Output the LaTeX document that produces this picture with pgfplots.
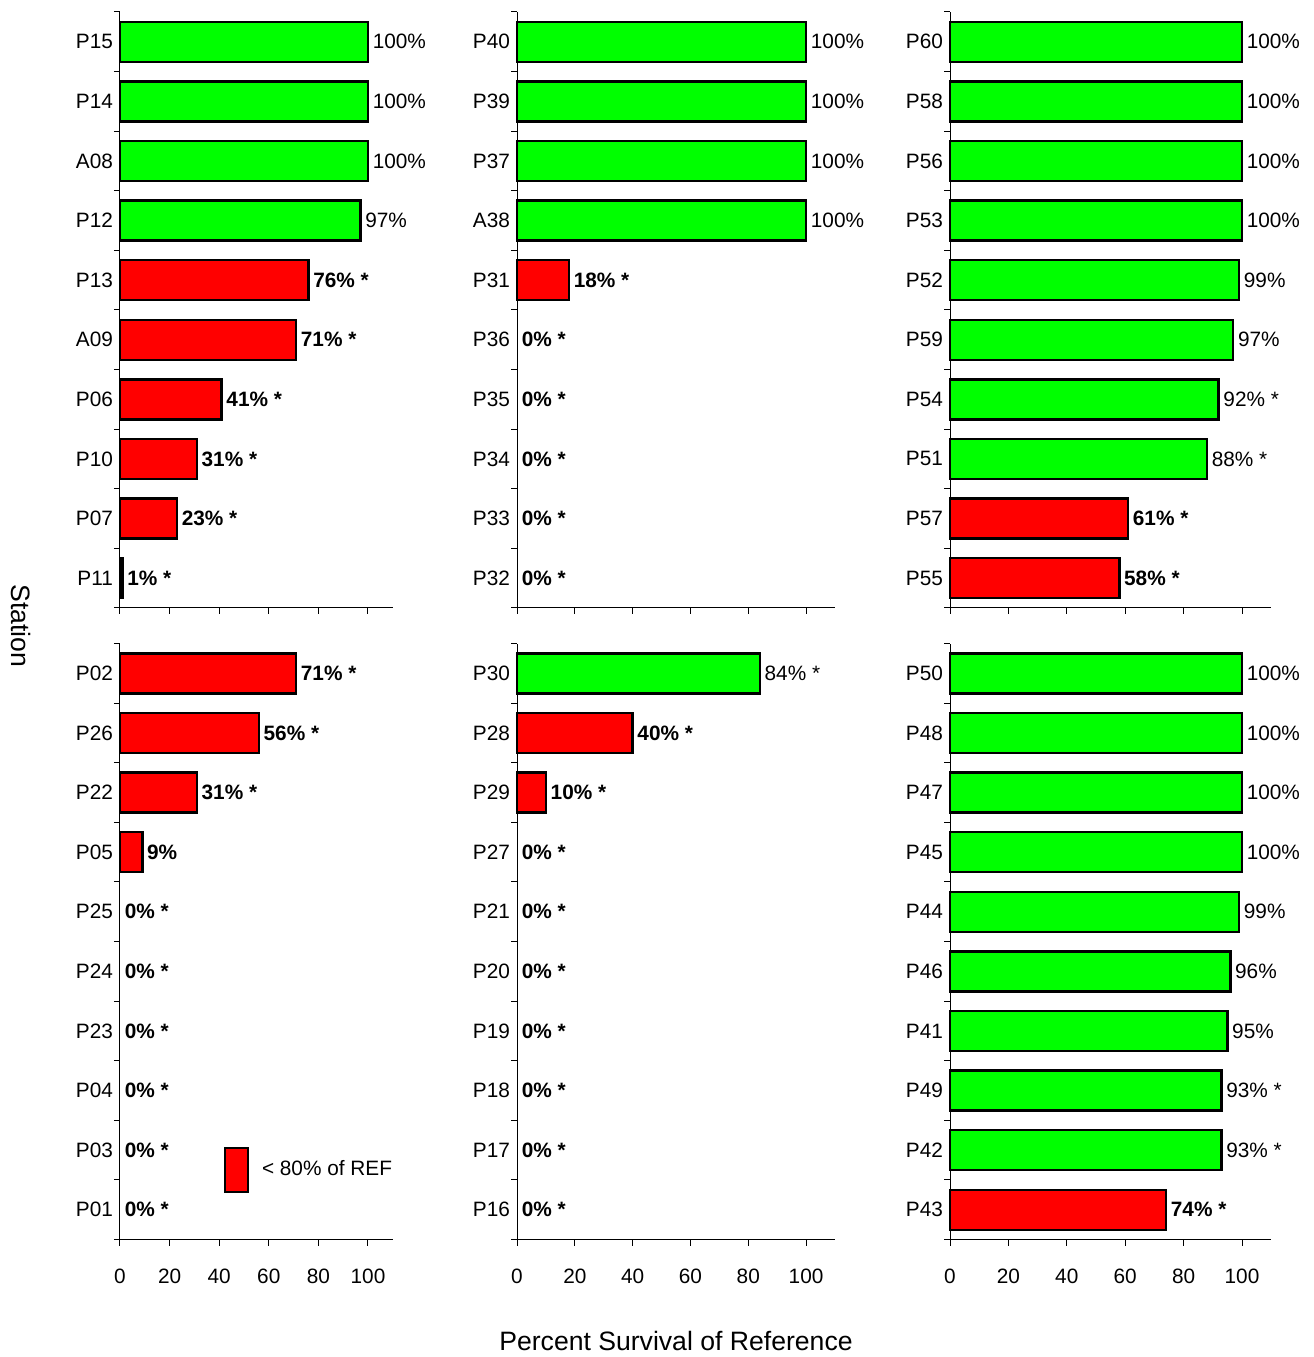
\documentclass[border=0pt]{standalone}
\usepackage{fontspec}
\setmainfont{Liberation Sans}
\usepackage{pgfplots}
\pgfplotsset{compat=1.18}

\definecolor{bargreen}{RGB}{0,255,0}
\definecolor{barred}{RGB}{255,0,0}
\newcommand\lab{\fontsize{10.4}{12}\selectfont}

\pgfplotsset{
  panel/.style={
    scale only axis, height=298pt,
    xmin=0, xmax=110, ymin=0.5, ymax=10.5,
    axis x line*=bottom, axis y line*=left,
    axis line style={-, line width=0.5pt},
    tick style={line width=0.5pt, black},
    tick align=outside, major tick length=3pt,
    xtick={0,20,...,100}, ytick={0.5,1.5,...,10.5},
    yticklabel style={yshift=14.9pt, xshift=3pt, font=\lab},
    xticklabel style={font=\lab, yshift=-8pt},
    /pgf/number format/assume math mode=true,
    clip=false, anchor=north west,
  },
  toprow/.style={panel, xticklabels={}},
  bars/.style={
    xbar, bar shift=0pt, bar width=20pt, line width=1.2pt, draw=black,
    nodes near coords, point meta=explicit symbolic,
    nodes near coords align={horizontal},
    every node near coord/.append style={anchor=west, inner sep=1.8pt, text=black, font=\lab},
  },
  good/.style={bars, fill=bargreen},
  bad/.style={bars, fill=barred, every node near coord/.append style={font=\lab\bfseries}},
  nil/.style={bars, draw=none, fill=none, every node near coord/.append style={font=\lab\bfseries}},
}

\begin{document}
\begin{tikzpicture}
\path[use as bounding box] (0pt,0pt) rectangle (657pt,-678.5pt);

% top left
\begin{axis}[toprow, at={(60pt,-5.95pt)}, width=136.4pt,
  yticklabels={P11,P07,P10,P06,A09,P13,P12,A08,P14,P15,{}}]
\addplot[good] table[x=v, y=p, meta=lab, col sep=comma, row sep=\\] {
p,v,lab\\ 10,100,100\%\\ 9,100,100\%\\ 8,100,100\%\\ 7,97,97\%\\ };
\addplot[bad] table[x=v, y=p, meta=lab, col sep=comma, row sep=\\] {
p,v,lab\\ 6,76,76\% *\\ 5,71,71\% *\\ 4,41,41\% *\\ 3,31,31\% *\\ 2,23,23\% *\\ 1,1,1\% *\\ };
\end{axis}

% top middle
\begin{axis}[toprow, at={(258.5pt,-5.95pt)}, width=159pt,
  yticklabels={P32,P33,P34,P35,P36,P31,A38,P37,P39,P40,{}}]
\addplot[good] table[x=v, y=p, meta=lab, col sep=comma, row sep=\\] {
p,v,lab\\ 10,100,100\%\\ 9,100,100\%\\ 8,100,100\%\\ 7,100,100\%\\ };
\addplot[bad] table[x=v, y=p, meta=lab, col sep=comma, row sep=\\] {
p,v,lab\\ 6,18,18\% *\\ };
\addplot[nil] table[x=v, y=p, meta=lab, col sep=comma, row sep=\\] {
p,v,lab\\ 5,0,0\% *\\ 4,0,0\% *\\ 3,0,0\% *\\ 2,0,0\% *\\ 1,0,0\% *\\ };
\end{axis}

% top right
\begin{axis}[toprow, at={(475pt,-5.95pt)}, width=160.6pt,
  yticklabels={P55,P57,P51,P54,P59,P52,P53,P56,P58,P60,{}}]
\addplot[good] table[x=v, y=p, meta=lab, col sep=comma, row sep=\\] {
p,v,lab\\ 10,100,100\%\\ 9,100,100\%\\ 8,100,100\%\\ 7,100,100\%\\ 6,99,99\%\\ 5,97,97\%\\ 4,92,92\% *\\ 3,88,88\% *\\ };
\addplot[bad] table[x=v, y=p, meta=lab, col sep=comma, row sep=\\] {
p,v,lab\\ 2,61,61\% *\\ 1,58,58\% *\\ };
\end{axis}

% bottom left
\begin{axis}[panel, at={(60pt,-321.75pt)}, width=136.4pt,
  yticklabels={P01,P03,P04,P23,P24,P25,P05,P22,P26,P02,{}},
  legend style={at={(axis cs:39.2,1.67)}, anchor=west, draw=none, fill=none,
    font=\lab, legend cell align=left,
    /tikz/every odd column/.append style={column sep=4.5pt}}]
\addlegendimage{legend image code/.code={\draw[fill=barred, line width=1.2pt] (0pt,-11pt) rectangle (11.5pt,11pt);}}
\addlegendentry{< 80\% of REF}
\addplot[bad] table[x=v, y=p, meta=lab, col sep=comma, row sep=\\] {
p,v,lab\\ 10,71,71\% *\\ 9,56,56\% *\\ 8,31,31\% *\\ 7,9,9\%\\ };
\addplot[nil] table[x=v, y=p, meta=lab, col sep=comma, row sep=\\] {
p,v,lab\\ 6,0,0\% *\\ 5,0,0\% *\\ 4,0,0\% *\\ 3,0,0\% *\\ 2,0,0\% *\\ 1,0,0\% *\\ };
\end{axis}

% bottom middle
\begin{axis}[panel, at={(258.5pt,-321.75pt)}, width=159pt,
  yticklabels={P16,P17,P18,P19,P20,P21,P27,P29,P28,P30,{}},
  xlabel={Percent Survival of Reference},
  xlabel style={font=\fontsize{13.3}{15}\selectfont, yshift=-17pt}]
\addplot[good] table[x=v, y=p, meta=lab, col sep=comma, row sep=\\] {
p,v,lab\\ 10,84,84\% *\\ };
\addplot[bad] table[x=v, y=p, meta=lab, col sep=comma, row sep=\\] {
p,v,lab\\ 9,40,40\% *\\ 8,10,10\% *\\ };
\addplot[nil] table[x=v, y=p, meta=lab, col sep=comma, row sep=\\] {
p,v,lab\\ 7,0,0\% *\\ 6,0,0\% *\\ 5,0,0\% *\\ 4,0,0\% *\\ 3,0,0\% *\\ 2,0,0\% *\\ 1,0,0\% *\\ };
\end{axis}

% bottom right
\begin{axis}[panel, at={(475pt,-321.75pt)}, width=160.6pt,
  yticklabels={P43,P42,P49,P41,P46,P44,P45,P47,P48,P50,{}}]
\addplot[good] table[x=v, y=p, meta=lab, col sep=comma, row sep=\\] {
p,v,lab\\ 10,100,100\%\\ 9,100,100\%\\ 8,100,100\%\\ 7,100,100\%\\ 6,99,99\%\\ 5,96,96\%\\ 4,95,95\%\\ 3,93,93\% *\\ 2,93,93\% *\\ };
\addplot[bad] table[x=v, y=p, meta=lab, col sep=comma, row sep=\\] {
p,v,lab\\ 1,74,74\% *\\ };
\end{axis}

\node[rotate=-90, font=\fontsize{13.3}{15}\selectfont] at (10.5pt,-313pt) {Station};
\end{tikzpicture}
\end{document}
